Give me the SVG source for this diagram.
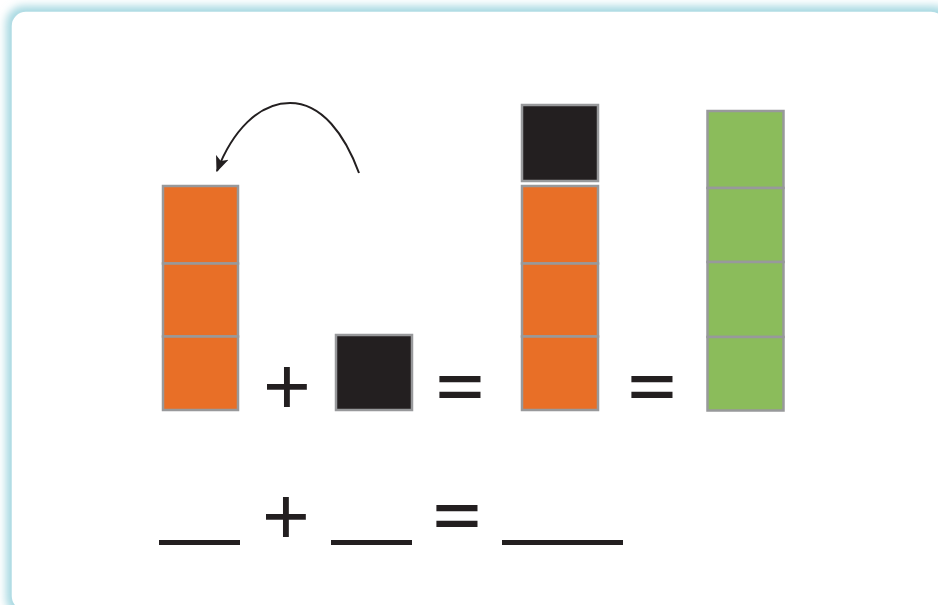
<svg xmlns="http://www.w3.org/2000/svg" width="938" height="605" viewBox="0 0 938 605">
<style>
.cell{stroke:#98999b;stroke-width:2.5}
.or{fill:#e86f27}
.bk{fill:#231f20}
.gr{fill:#8bbc5b}
.sym{font-family:"Liberation Sans",Arial,sans-serif;font-size:82px;fill:#231f20;text-anchor:middle}
.eq{font-weight:bold}
.blank{stroke:#231f20;stroke-width:5}
</style>
<defs>
<filter id="glow" x="-5%" y="-5%" width="110%" height="110%">
<feGaussianBlur stdDeviation="4"/>
</filter>
<marker id="ah2" viewBox="0 0 12 10" refX="11" refY="5" markerWidth="16" markerHeight="14" markerUnits="userSpaceOnUse" orient="auto">
<path d="M0,0 L12,5 L0,10 L3,5 z" fill="#231f20"/>
</marker>
</defs>
<rect width="938" height="605" fill="#ffffff"/>
<g id="frame">
<rect x="6" y="6" width="946" height="610" rx="18" fill="#a6d8e1" filter="url(#glow)"/>
<rect x="11" y="11" width="935" height="600" rx="15" fill="#ffffff" stroke="#b3dde5" stroke-width="1.5"/>
</g>
<g id="connectors">
<path d="M359,173 C345,135 322,103 290,103 C258,103 232,132 217,171" fill="none" stroke="#231f20" stroke-width="2" marker-end="url(#ah2)"/>
</g>
<g id="stack-orange-left">
<rect class="cell or" x="163" y="186" width="75" height="77.5"/>
<rect class="cell or" x="163" y="263.5" width="75" height="73"/>
<rect class="cell or" x="163" y="336.5" width="75" height="73.5"/>
</g>
<g id="plus-1"><text class="sym" x="287" y="414">+</text></g>
<g id="black-single">
<rect class="cell bk" x="336" y="335" width="76" height="75"/>
</g>
<g id="equals-1"><text class="sym eq" x="460" y="414" transform="translate(0,386.5) scale(1,0.7) translate(0,-386.5)">=</text></g>
<g id="black-top">
<rect class="cell bk" x="522" y="105" width="76" height="76"/>
</g>
<g id="stack-orange-middle">
<rect class="cell or" x="522" y="186" width="76" height="77.5"/>
<rect class="cell or" x="522" y="263.5" width="76" height="73"/>
<rect class="cell or" x="522" y="336.5" width="76" height="73.5"/>
</g>
<g id="equals-2"><text class="sym eq" x="652" y="414" transform="translate(0,386.5) scale(1,0.7) translate(0,-386.5)">=</text></g>
<g id="stack-green">
<rect class="cell gr" x="707.5" y="111" width="76" height="77"/>
<rect class="cell gr" x="707.5" y="188" width="76" height="74"/>
<rect class="cell gr" x="707.5" y="262" width="76" height="75"/>
<rect class="cell gr" x="707.5" y="337" width="76" height="73.5"/>
</g>
<g id="equation">
<line class="blank" x1="159" y1="542.5" x2="240" y2="542.5"/>
<text class="sym" x="286" y="544">+</text>
<line class="blank" x1="331" y1="542.5" x2="412" y2="542.5"/>
<text class="sym eq" x="457" y="543" transform="translate(0,515) scale(1,0.7) translate(0,-515)">=</text>
<line class="blank" x1="502" y1="542.5" x2="623" y2="542.5"/>
</g>
</svg>
